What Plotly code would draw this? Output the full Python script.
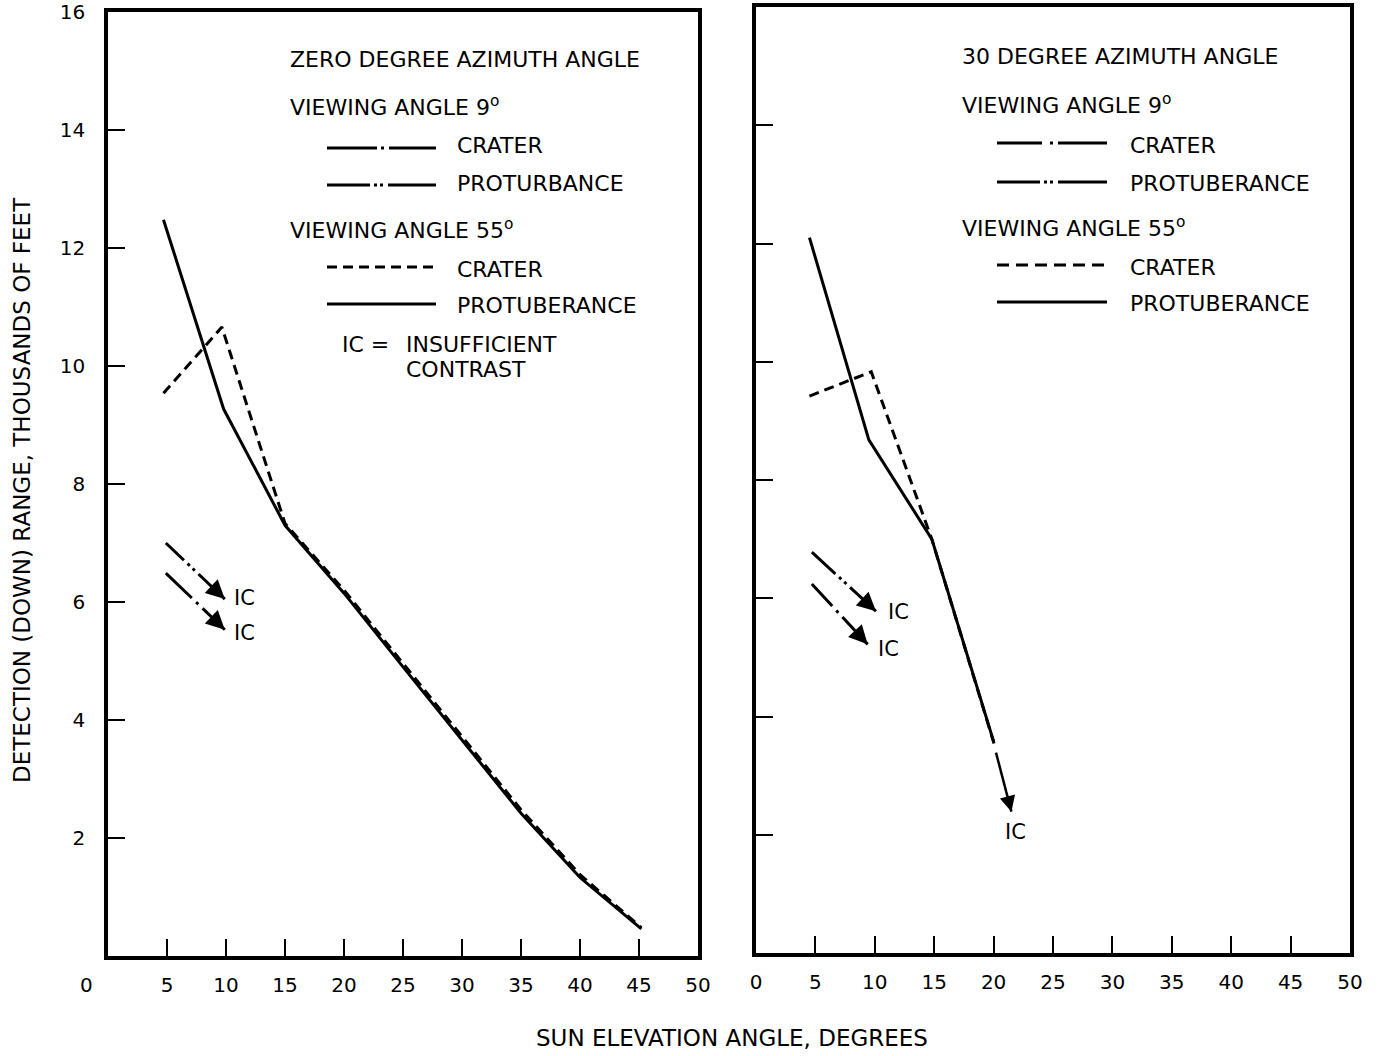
import plotly.graph_objects as go

FIG_W, FIG_H = 1380, 1056
FONT = "DejaVu Sans"
INK = "black"

# ---------------------------------------------------------------- data
# axis tick values
x_ticks = [0, 5, 10, 15, 20, 25, 30, 35, 40, 45, 50]
y_ticks = [2, 4, 6, 8, 10, 12, 14, 16]

# zero degree azimuth angle -- viewing angle 55 deg
az0_prot55_sun = [4.7, 9.8, 15, 20, 25, 30, 35, 40, 45.2]
az0_prot55_rng = [12.48, 9.27, 7.3, 6.15, 4.9, 3.65, 2.42, 1.33, 0.46]
az0_crat55_sun = [4.7, 9.65, 15, 20, 25, 30, 35, 40, 45.2]
az0_crat55_rng = [9.54, 10.66, 7.33, 6.2, 4.96, 3.72, 2.48, 1.38, 0.48]
# zero degree azimuth angle -- viewing angle 9 deg (ends in insufficient contrast)
az0_prot9_sun = [4.9, 9.9]
az0_prot9_rng = [7.0, 6.05]
az0_crat9_sun = [4.9, 9.9]
az0_crat9_rng = [6.49, 5.53]

# 30 degree azimuth angle -- viewing angle 55 deg
az30_prot55_sun = [4.5, 9.5, 14.8, 20.0]
az30_prot55_rng = [12.1, 8.68, 7.0, 3.58]
az30_crat55_sun = [4.5, 9.7, 14.8, 20.1]
az30_crat55_rng = [9.42, 9.83, 7.0, 3.5]
az30_ic_sun = [20.2, 21.5]
az30_ic_rng = [3.39, 2.39]
# 30 degree azimuth angle -- viewing angle 9 deg
az30_prot9_sun = [4.7, 10.1]
az30_prot9_rng = [6.78, 5.78]
az30_crat9_sun = [4.7, 9.4]
az30_crat9_rng = [6.24, 5.22]


def px(x):
    return x / FIG_W


def py(y):
    return 1 - y / FIG_H


fig = go.Figure()
annotations = []
shapes = []


def curve(xs, ys, xa, ya, dash="solid", width=3):
    fig.add_trace(go.Scatter(
        x=xs, y=ys, xaxis=xa, yaxis=ya, mode="lines",
        line=dict(color=INK, width=width, dash=dash),
        showlegend=False, hoverinfo="skip"))


def arrow(xs, ys, xa, ya, dash, width=3):
    # dashed shaft from the data, then a filled head at its last point
    curve(xs, ys, xa, ya, dash=dash, width=width)
    f = 0.82
    annotations.append(dict(
        text="", x=xs[-1], y=ys[-1], xref=xa, yref=ya,
        ax=xs[0] + f * (xs[-1] - xs[0]), ay=ys[0] + f * (ys[-1] - ys[0]),
        axref=xa, ayref=ya, showarrow=True, arrowhead=2,
        arrowsize=1.25, arrowwidth=width, arrowcolor=INK, standoff=0))


# left panel: zero degree azimuth
curve(az0_prot55_sun, az0_prot55_rng, "x", "y")
curve(az0_crat55_sun, az0_crat55_rng, "x", "y", dash="10px,6px")
arrow(az0_prot9_sun, az0_prot9_rng, "x", "y", "25px,5px,3px,4px,3px,5px,90px")
arrow(az0_crat9_sun, az0_crat9_rng, "x", "y", "36px,6px,3px,6px,90px")

# right panel: 30 degree azimuth
curve(az30_prot55_sun, az30_prot55_rng, "x2", "y2")
curve(az30_crat55_sun, az30_crat55_rng, "x2", "y2", dash="10px,6px")
arrow(az30_ic_sun, az30_ic_rng, "x2", "y2", "solid", width=2.5)
arrow(az30_prot9_sun, az30_prot9_rng, "x2", "y2", "32px,5px,3px,4px,3px,5px,90px")
arrow(az30_crat9_sun, az30_crat9_rng, "x2", "y2", "30px,6px,3px,6px,90px")

# ---------------------------------------------------------------- axes
axis_common = dict(
    showline=True, mirror=True, linecolor=INK, linewidth=3.5,
    showgrid=False, zeroline=False, ticks="inside", ticklen=17,
    tickwidth=2, tickcolor=INK, automargin=False,
    tickfont=dict(family=FONT, size=20, color=INK),
)

fig.update_layout(
    xaxis=dict(axis_common, domain=[px(108), px(698)], range=[0, 50],
               tickvals=x_ticks[1:], ticktext=[str(v) for v in x_ticks[1:]],
               ticklabelstandoff=8),
    yaxis=dict(axis_common, domain=[py(956), py(12)], range=[0, 16],
               tickvals=y_ticks, ticktext=[str(v) for v in y_ticks],
               ticklabelstandoff=15),
    xaxis2=dict(axis_common, domain=[px(756), px(1350)], range=[0, 50],
                tickvals=x_ticks, ticktext=[str(v) for v in x_ticks],
                ticklabelstandoff=8, anchor="y2"),
    yaxis2=dict(axis_common, domain=[py(953), py(7)], range=[0, 16],
                tickvals=y_ticks[:-1], showticklabels=False, anchor="x2"),
)


def label(text, x, y, size=22, anchor="left", **kw):
    annotations.append(dict(
        text=text, x=px(x), y=py(y), xref="paper", yref="paper",
        xanchor=anchor, yanchor="middle", showarrow=False,
        font=dict(family=FONT, size=size, color=INK), **kw))


def key_line(x0, x1, y, dash):
    shapes.append(dict(
        type="line", xref="paper", yref="paper",
        x0=px(x0), x1=px(x1), y0=py(y), y1=py(y),
        line=dict(color=INK, width=3, dash=dash)))


# left-panel key
label("ZERO DEGREE AZIMUTH ANGLE", 288, 60)
label("VIEWING ANGLE 9<sup>o</sup>", 288, 106)
key_line(327, 436, 148, "50px,4px,3px,5px,80px")
label("CRATER", 455, 146)
key_line(327, 436, 185, "43px,4px,3px,3px,3px,5px,80px")
label("PROTURBANCE", 455, 183)
label("VIEWING ANGLE 55<sup>o</sup>", 288, 229)
key_line(327, 436, 267, "10px,6px")
label("CRATER", 455, 269)
key_line(327, 436, 304, "solid")
label("PROTUBERANCE", 455, 305)
label("IC =", 340, 345)
label("INSUFFICIENT", 404, 345)
label("CONTRAST", 404, 370)

# right-panel key
label("30 DEGREE AZIMUTH ANGLE", 960, 57)
label("VIEWING ANGLE 9<sup>o</sup>", 960, 104)
key_line(997, 1107, 143, "45px,8px,3px,5px,80px")
label("CRATER", 1128, 145)
key_line(997, 1107, 182, "43px,4px,3px,3px,3px,5px,80px")
label("PROTUBERANCE", 1128, 183)
label("VIEWING ANGLE 55<sup>o</sup>", 960, 227)
key_line(997, 1107, 265, "12px,7px")
label("CRATER", 1128, 267)
key_line(997, 1107, 302, "solid")
label("PROTUBERANCE", 1128, 304)


# "IC" tags at the arrow tips
def ic(xs, ys, xa, ya, dx, dy, anchor="left"):
    annotations.append(dict(
        text="IC", x=xs[-1], y=ys[-1], xref=xa, yref=ya,
        xanchor=anchor, yanchor="middle", xshift=dx, yshift=dy,
        showarrow=False, font=dict(family=FONT, size=21, color=INK)))


ic(az0_prot9_sun, az0_prot9_rng, "x", "y", 7, 1)
ic(az0_crat9_sun, az0_crat9_rng, "x", "y", 7, -3)
ic(az30_prot9_sun, az30_prot9_rng, "x2", "y2", 10, -1)
ic(az30_crat9_sun, az30_crat9_rng, "x2", "y2", 8, -5)
ic(az30_ic_sun, az30_ic_rng, "x2", "y2", 4, -20, anchor="center")

# left panel's zero label sits well left of its frame
annotations.append(dict(
    text=str(x_ticks[0]), x=px(86), y=py(985), xref="paper", yref="paper",
    xanchor="center", yanchor="middle", showarrow=False,
    font=dict(family=FONT, size=20, color=INK)))

# axis titles
label("SUN ELEVATION ANGLE, DEGREES", 732, 1038, size=23, anchor="center")
label("DETECTION (DOWN) RANGE, THOUSANDS OF FEET", 22, 490, size=23,
      anchor="center", textangle=-90)

fig.update_layout(
    width=FIG_W, height=FIG_H,
    margin=dict(l=0, r=0, t=0, b=0),
    paper_bgcolor="white", plot_bgcolor="white",
    font=dict(family=FONT, color=INK),
    annotations=annotations, shapes=shapes,
    showlegend=False,
)

fig.write_html("out.html")
